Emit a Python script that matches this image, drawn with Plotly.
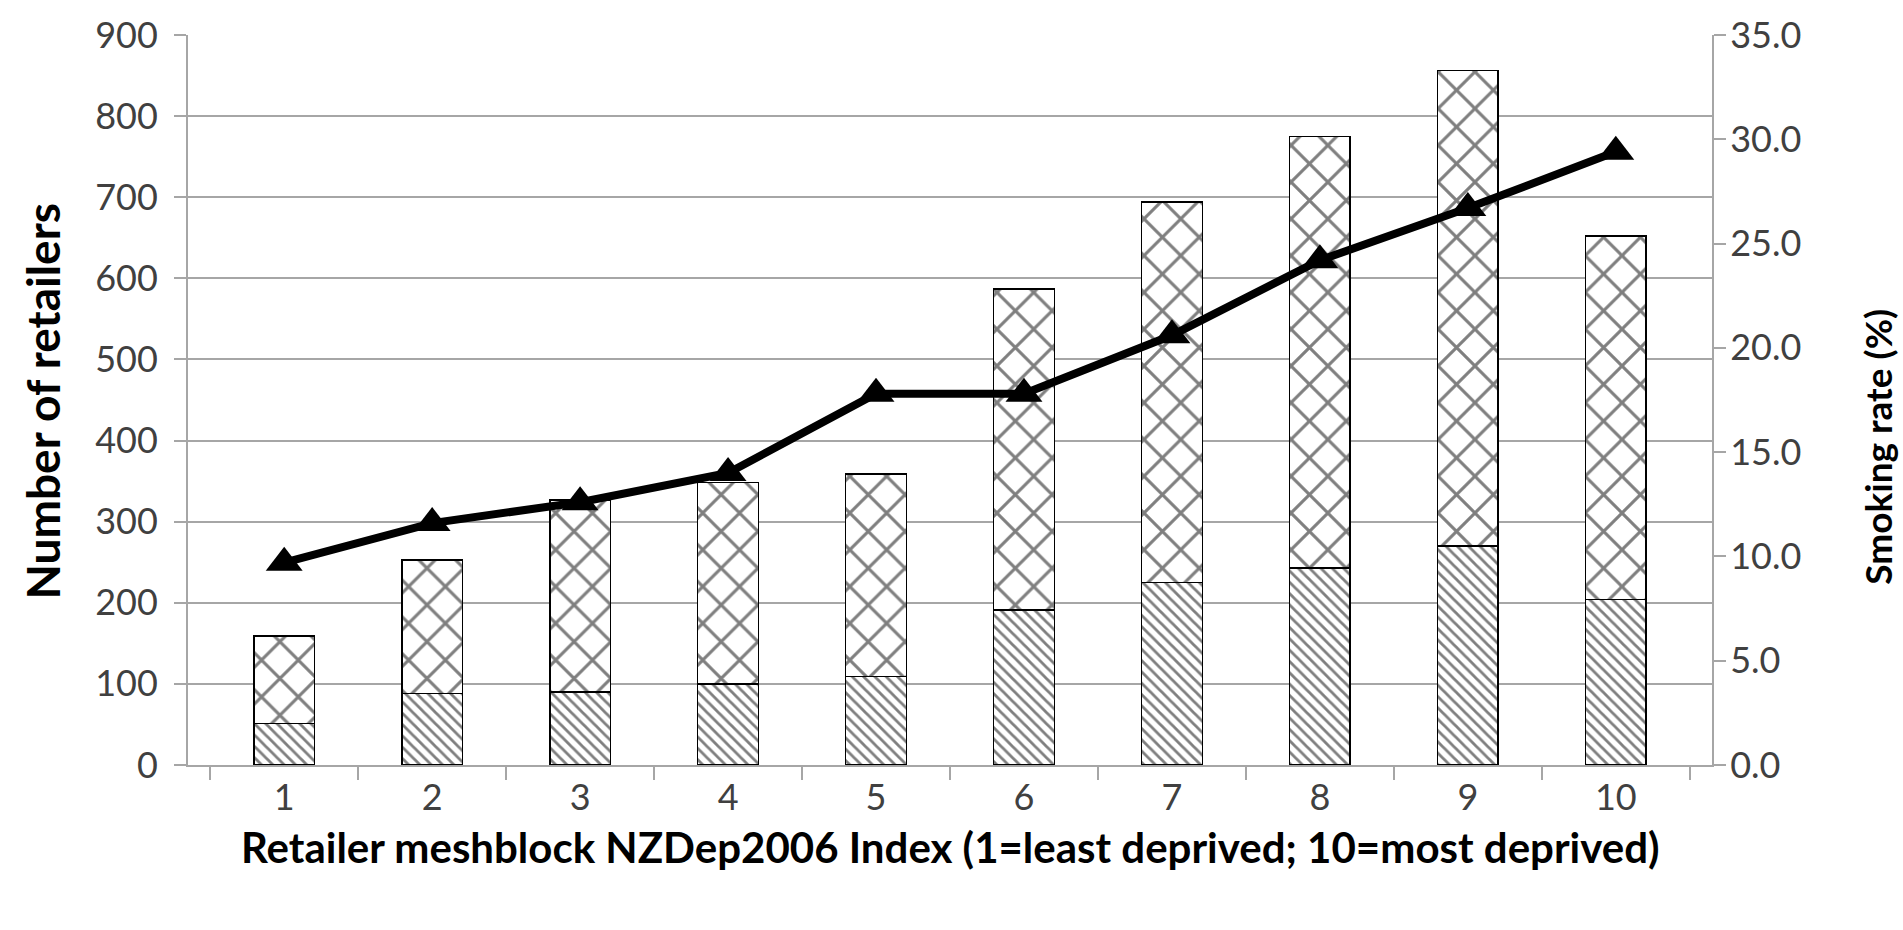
import plotly.graph_objects as go

categories = ["1", "2", "3", "4", "5", "6", "7", "8", "9", "10"]
retailers_lower = [51, 88, 90, 100, 109, 191, 225, 243, 270, 204]
retailers_upper = [108, 165, 237, 248, 250, 396, 469, 532, 586, 448]
smoking_rate = [9.7, 11.6, 12.6, 14.0, 17.8, 17.8, 20.6, 24.2, 26.7, 29.4]

left_ticks = list(range(0, 901, 100))
right_ticks = [0, 5, 10, 15, 20, 25, 30, 35]

x_title = "Retailer meshblock NZDep2006 Index (1=least deprived; 10=most deprived)"
y_title = "Number of retailers"
y2_title = "Smoking rate (%)"

FONT = "Lato"
TICK_COLOR = "#404040"
GRID = "#a6a6a6"
TICK_SIZE = 36

fig = go.Figure()

fig.add_trace(go.Bar(
    x=categories, y=retailers_lower, name="lower",
    marker=dict(
        color="white",
        line=dict(color="black", width=1.5),
        pattern=dict(shape="\\", fgcolor="black", bgcolor="white", size=8, solidity=0.35),
    ),
))
fig.add_trace(go.Bar(
    x=categories, y=retailers_upper, name="upper",
    marker=dict(
        color="white",
        line=dict(color="black", width=1.5),
        pattern=dict(shape="x", fgcolor="black", bgcolor="white", size=26, solidity=0.22),
    ),
))
fig.add_trace(go.Scatter(
    x=categories, y=smoking_rate, name="smoking", yaxis="y2",
    mode="lines+markers",
    line=dict(color="black", width=8),
    marker=dict(symbol="triangle-up", size=32, color="black"),
))

fig.update_layout(
    width=1903, height=930,
    margin=dict(l=188, r=191, t=21, b=165),
    paper_bgcolor="white", plot_bgcolor="white",
    barmode="stack", bargap=0.59,
    showlegend=False,
    font=dict(family=FONT, color=TICK_COLOR, size=TICK_SIZE),
    xaxis=dict(
        type="category",
        showgrid=False,
        showline=True, linecolor=GRID, linewidth=2,
        ticks="outside", tickson="boundaries", ticklen=13, tickcolor=GRID, tickwidth=2,
        tickfont=dict(size=TICK_SIZE, color=TICK_COLOR),
        ticklabelstandoff=0,
    ),
    yaxis=dict(
        range=[0, 900], tickvals=left_ticks,
        showgrid=True, gridcolor=GRID, gridwidth=2,
        showline=True, linecolor=GRID, linewidth=2,
        ticks="outside", ticklen=12, tickcolor=GRID, tickwidth=2,
        tickfont=dict(size=TICK_SIZE, color=TICK_COLOR),
        ticklabelstandoff=9, ticklabeloverflow="allow",
        zeroline=False,
    ),
    yaxis2=dict(
        range=[0, 35], tickvals=right_ticks, tickformat=".1f",
        overlaying="y", side="right",
        showgrid=False,
        showline=True, linecolor=GRID, linewidth=2,
        ticks="outside", ticklen=12, tickcolor=GRID, tickwidth=2,
        tickfont=dict(size=TICK_SIZE, color=TICK_COLOR),
        ticklabelstandoff=-3, ticklabeloverflow="allow",
        zeroline=False,
    ),
    annotations=[
        dict(text="<b>" + y_title + "</b>", xref="paper", yref="paper", x=0, y=0.498,
             xshift=-146, xanchor="center", yanchor="middle", textangle=-90, showarrow=False,
             font=dict(size=46, color="black", family=FONT)),
        dict(text="<b>" + y2_title + "</b>", xref="paper", yref="paper", x=1, y=0.436,
             xshift=166, xanchor="center", yanchor="middle", textangle=-90, showarrow=False,
             font=dict(size=37, color="black", family=FONT)),
        dict(text="<b>" + x_title + "</b>", xref="paper", yref="paper", x=0.5, y=0,
             yshift=-82, xanchor="center", yanchor="middle", showarrow=False,
             font=dict(size=42, color="black", family=FONT)),
    ],
)

fig.write_html("out.html", config={"displayModeBar": False},
               post_script="document.body.style.margin='0px';")
